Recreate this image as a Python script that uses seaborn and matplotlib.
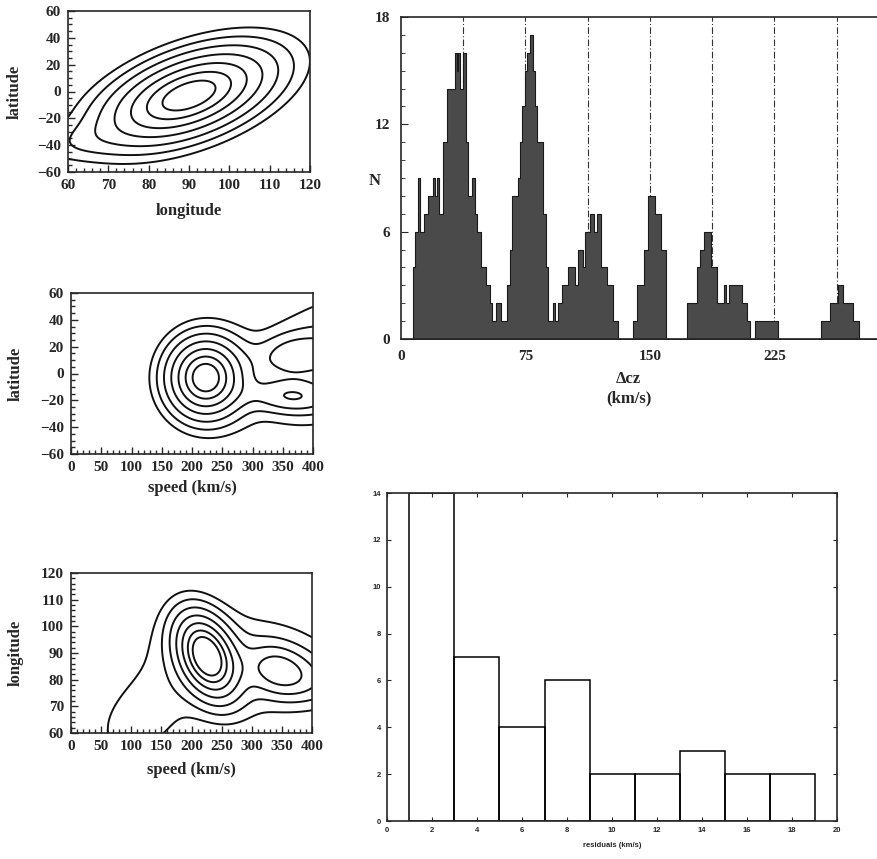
import numpy as np
import matplotlib
matplotlib.use("Agg")
import matplotlib.pyplot as plt
import seaborn as sns
from matplotlib.ticker import MultipleLocator

# ---- top right: histogram of velocity differences (step edges + counts) ----
dcz_edges = [0, 7.3, 8.3, 10.3, 11.6, 13.6, 16.2, 19.0, 20.5, 21.5, 23.0, 25.5, 28.0,
             32.5, 33.7, 34.5, 35.5, 37.3, 38.9, 40.6, 43.0, 44.5, 46.0, 48.0, 51.0,
             53.5, 55.0, 57.5, 60.5, 64.0, 65.5, 66.8, 70.3, 71.5, 73.0, 74.5, 76.0,
             77.5, 79.3, 80.8, 82.0, 85.8, 87.3, 88.7, 91.8, 92.8, 94.8, 96.8, 100.8,
             104.8, 106.8, 109.9, 110.9, 113.9, 116.0, 118.0, 120.6, 123.9, 127.9,
             131.0, 140.0, 142.0, 146.4, 148.5, 153.0, 156.5, 159.5, 172.5, 178.5,
             180.0, 182.5, 186.5, 190.5, 194.5, 196.0, 197.5, 205.5, 208.5, 210.5,
             213.0, 227.0, 253.0, 258.5, 263.5, 266.0, 272.0, 276.0, 300.0]
dcz_counts = [0, 4, 6, 9, 6, 7, 8, 9, 8, 9, 7, 11,
              14, 16, 15, 16, 14, 16, 11, 8, 9, 7, 6, 4,
              3, 2, 1, 2, 1, 3, 5, 8, 9, 11, 13, 15,
              16, 17, 15, 13, 11, 7, 4, 1, 2, 1, 2, 3,
              4, 3, 5, 4, 6, 7, 6, 7, 4, 3,
              1, 0, 1, 3, 5, 8, 7, 5, 0, 2,
              4, 5, 6, 4, 2, 3, 2, 3, 2, 1,
              0, 1, 0, 1, 2, 3, 2, 1, 0]
period_lines = [37.5, 75, 112.5, 150, 187.5, 225, 262.5]

# ---- bottom right: residuals histogram ----
resid_edges = [1, 3, 5, 7, 9, 11, 13, 15, 17, 19]
resid_counts = [14, 7, 4, 6, 2, 2, 3, 2, 2]

# ---- contour maps: blobs ----
# each row: x centre, y centre, x width, y width, correlation, height
lonlat_blobs = [[90, -3, 13, 22, 0.5, 1.0],
                [62, -38, 8, 10, 0.3, 0.07]]
speedlat_blobs = [[222, -3, 40, 19, 0.0, 1.0],
                  [420, 10, 95, 40, 0.3, 0.13],
                  [360, 14, 35, 10, 0.15, 0.15],
                  [430, 16, 60, 11, 0.15, 0.15],
                  [365, -17, 45, 8, -0.1, 0.29]]
speedlon_blobs = [[225, 89, 32, 10, -0.35, 1.0],
                  [342, 83.5, 32, 6, -0.2, 0.3],
                  [385, 81, 40, 6, -0.3, 0.14],
                  [290, 86, 120, 14, -0.15, 0.14],
                  [110, 64, 55, 12, 0.3, 0.1]]
# same seven contour levels on every map
contour_levels = [0.07, 0.135, 0.235, 0.375, 0.545, 0.725, 0.88]


def blob_field(blobs, xr, yr):
    xs = np.linspace(xr[0], xr[1], 300)
    ys = np.linspace(yr[0], yr[1], 300)
    X, Y = np.meshgrid(xs, ys)
    Z = np.zeros_like(X)
    for cx, cy, sx, sy, rho, amp in blobs:
        u = (X - cx) / sx
        v = (Y - cy) / sy
        q = (u ** 2 - 2 * rho * u * v + v ** 2) / (1 - rho ** 2)
        Z += amp * np.exp(-0.5 * q)
    return X, Y, Z


sns.set_style("ticks")
plt.rcParams['font.family'] = ['Liberation Serif', 'DejaVu Serif']
plt.rcParams['font.weight'] = 'bold'
plt.rcParams['axes.linewidth'] = 1.2

W, H = 878, 859
fig = plt.figure(figsize=(W / 100, H / 100), dpi=100)


def px_axes(left, top, right, bottom):
    return fig.add_axes([left / W, 1 - bottom / H, (right - left) / W, (bottom - top) / H])


def contour_panel(ax, blobs, xr, yr, xmaj, xmin, ymaj, ymin):
    X, Y, Z = blob_field(blobs, xr, yr)
    ax.contour(X, Y, Z, levels=contour_levels, colors='#111111', linewidths=1.4)
    ax.set_xlim(*xr)
    ax.set_ylim(*yr)
    ax.xaxis.set_major_locator(MultipleLocator(xmaj))
    ax.xaxis.set_minor_locator(MultipleLocator(xmin))
    ax.yaxis.set_major_locator(MultipleLocator(ymaj))
    ax.yaxis.set_minor_locator(MultipleLocator(ymin))
    ax.tick_params(which='both', direction='in', width=1.0)
    ax.tick_params(which='major', length=5, labelsize=11, pad=5)
    ax.tick_params(which='minor', length=3)
    for lab in ax.get_xticklabels() + ax.get_yticklabels():
        lab.set_fontweight('bold')


# longitude / latitude
ax1 = px_axes(68, 11, 310, 172)
contour_panel(ax1, lonlat_blobs, (60, 120), (-60, 60), 10, 2, 20, 5)
ax1.text(0.5, -0.24, 'longitude', transform=ax1.transAxes, ha='center', va='center', fontsize=12)
ax1.text(-0.22, 0.5, 'latitude', transform=ax1.transAxes, ha='center', va='center',
         rotation=90, fontsize=12)

# speed / latitude
ax2 = px_axes(71, 293, 313, 454)
contour_panel(ax2, speedlat_blobs, (0, 400), (-60, 60), 50, 10, 20, 5)
ax2.text(0.5, -0.21, 'speed (km/s)', transform=ax2.transAxes, ha='center', va='center', fontsize=12)
ax2.text(-0.23, 0.5, 'latitude', transform=ax2.transAxes, ha='center', va='center',
         rotation=90, fontsize=12)

# speed / longitude
ax3 = px_axes(71, 573, 312, 733)
contour_panel(ax3, speedlon_blobs, (0, 400), (60, 120), 50, 10, 10, 2)
ax3.text(0.5, -0.23, 'speed (km/s)', transform=ax3.transAxes, ha='center', va='center', fontsize=12)
ax3.text(-0.23, 0.5, 'longitude', transform=ax3.transAxes, ha='center', va='center',
         rotation=90, fontsize=12)

# delta cz histogram (axes runs off the right edge like the cropped scan)
ax4 = px_axes(401, 17, 401 + 300 * 1.66, 339)
for xv in period_lines:
    ax4.axvline(xv, color='#333333', lw=0.8, ls=(0, (6, 2, 1, 2)), zorder=0)
centers = [(a + b) / 2 for a, b in zip(dcz_edges[:-1], dcz_edges[1:])]
sns.histplot(x=centers, weights=dcz_counts, bins=dcz_edges, element='step', fill=True,
             color='#4a4a4a', alpha=1, linewidth=0.8, edgecolor='#1a1a1a', ax=ax4)
ax4.set_xlim(0, 300)
ax4.set_ylim(0, 18)
ax4.set_xticks([0, 75, 150, 225])
ax4.set_yticks([0, 6, 12, 18])
ax4.yaxis.set_minor_locator(MultipleLocator(1))
ax4.tick_params(axis='x', length=0, labelsize=11, pad=8)
ax4.tick_params(axis='y', which='both', direction='in', labelsize=11, pad=8)
ax4.tick_params(axis='y', which='major', length=5)
ax4.tick_params(axis='y', which='minor', length=3)
ax4.set_xlabel('')
ax4.set_ylabel('')
ax4.text(-0.053, 0.49, 'N', transform=ax4.transAxes, ha='center', va='center', fontsize=12)
ax4.text(0.457, -0.155, '\u0394cz\n(km/s)', transform=ax4.transAxes, ha='center', va='center',
         fontsize=12, linespacing=1.3)
for lab in ax4.get_xticklabels() + ax4.get_yticklabels():
    lab.set_fontweight('bold')

# residuals histogram
ax5 = px_axes(387, 493, 837, 821)
rc = [(a + b) / 2 for a, b in zip(resid_edges[:-1], resid_edges[1:])]
sns.histplot(x=rc, weights=resid_counts, bins=resid_edges, element='bars', fill=False,
             color='black', linewidth=1.1, ax=ax5)
ax5.set_xlim(0, 20)
ax5.set_ylim(0, 14)
ax5.xaxis.set_major_locator(MultipleLocator(2))
ax5.yaxis.set_major_locator(MultipleLocator(2))
ax5.tick_params(which='both', direction='in', length=3, top=True, right=True,
                labelsize=5.5, pad=4)
for lab in ax5.get_xticklabels() + ax5.get_yticklabels():
    lab.set_family(['Liberation Sans', 'DejaVu Sans'])
    lab.set_fontweight('bold')
ax5.set_ylabel('')
ax5.set_xlabel('residuals (km/s)', fontsize=5.5, family=['Liberation Sans', 'DejaVu Sans'],
               fontweight='bold', labelpad=6)

fig.savefig('out.png', dpi=100)
